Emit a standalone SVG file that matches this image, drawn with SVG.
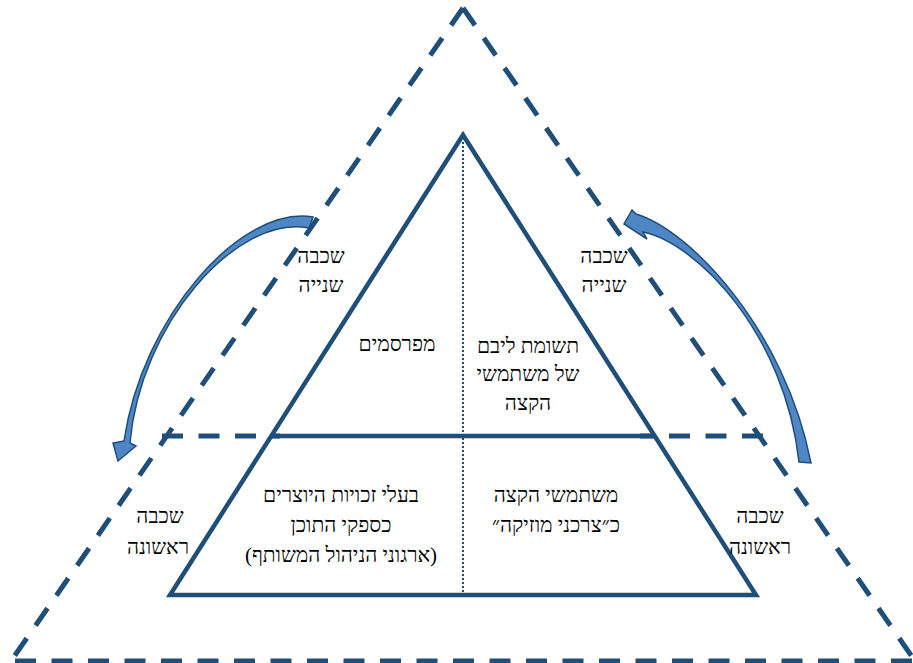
<svg xmlns="http://www.w3.org/2000/svg" width="913" height="663" viewBox="0 0 913 663">
  <style>
    .dash { fill: none; stroke: #1f4e79; stroke-width: 5; stroke-dasharray: 21 15.5; }
    .solid { fill: none; stroke: #1f4e79; stroke-width: 4.5; stroke-linejoin: miter; }
    .dots { fill: none; stroke: #1f4e79; stroke-width: 2; stroke-dasharray: 2 2; }
    .arrow { fill: #4f86c6; stroke: #1f4e79; stroke-width: 1.5; stroke-linejoin: miter; }
    text { font-family: "Liberation Serif", "Tinos", "FreeSerif", "Noto Serif Hebrew", "DejaVu Sans", serif; font-size: 21px; fill: #000; text-anchor: middle; }
  </style>

  <!-- outer layer: dashed triangle -->
  <g id="outer-triangle">
    <line class="dash" x1="463" y1="8" x2="11" y2="661"/>
    <line class="dash" x1="463" y1="8" x2="915" y2="661"/>
    <line class="dash" x1="15" y1="661" x2="913" y2="661"/>
  </g>

  <!-- dashed split line between the two layers -->
  <g id="layer-divider">
    <line class="dash" x1="162" y1="436" x2="280" y2="436"/>
    <line class="dash" x1="763" y1="436" x2="640" y2="436"/>
  </g>

  <!-- inner triangle with middle cut and vertical dotted divider -->
  <g id="inner-triangle">
    <polygon class="solid" points="463,135 170,595 756,595"/>
    <line class="solid" x1="271" y1="436" x2="654" y2="436"/>
    <line class="dots" x1="463" y1="142" x2="463" y2="592"/>
  </g>

  <!-- curved arrows between the layers -->
  <g id="connectors">
    <path class="arrow" d="M 313,217 C 240,205 142,318 124,441 L 113,443 L 118,461 L 136,446 L 130,443 C 140,325 236,214 309,228 Z"/>
    <path class="arrow" d="M 636,214 C 690,230 785,330 811,463 L 799,462 C 785,334 697,243 643,232 L 647,239 L 624,224 L 632,210 Z"/>
  </g>

  <g id="label-second-left">
    <text x="321" y="263">שכבה</text>
    <text x="321" y="292">שנייה</text>
  </g>
  <g id="label-second-right">
    <text x="604" y="263">שכבה</text>
    <text x="604" y="292">שנייה</text>
  </g>
  <g id="node-advertisers">
    <text x="397" y="351">מפרסמים</text>
  </g>
  <g id="node-attention">
    <text x="528" y="353">תשומת ליבם</text>
    <text x="528" y="381">של משתמשי</text>
    <text x="528" y="410">הקצה</text>
  </g>
  <g id="node-rights-holders">
    <text x="341" y="502">בעלי זכויות היוצרים</text>
    <text x="341" y="532">כספקי התוכן</text>
    <text x="341" y="562">(ארגוני הניהול המשותף)</text>
  </g>
  <g id="node-end-users">
    <text x="556" y="502">משתמשי הקצה</text>
    <text x="556" y="532">כ״צרכני מוזיקה״</text>
  </g>
  <g id="label-first-left">
    <text x="160" y="523">שכבה</text>
    <text x="158" y="554">ראשונה</text>
  </g>
  <g id="label-first-right">
    <text x="760" y="523">שכבה</text>
    <text x="760" y="554">ראשונה</text>
  </g>
</svg>
